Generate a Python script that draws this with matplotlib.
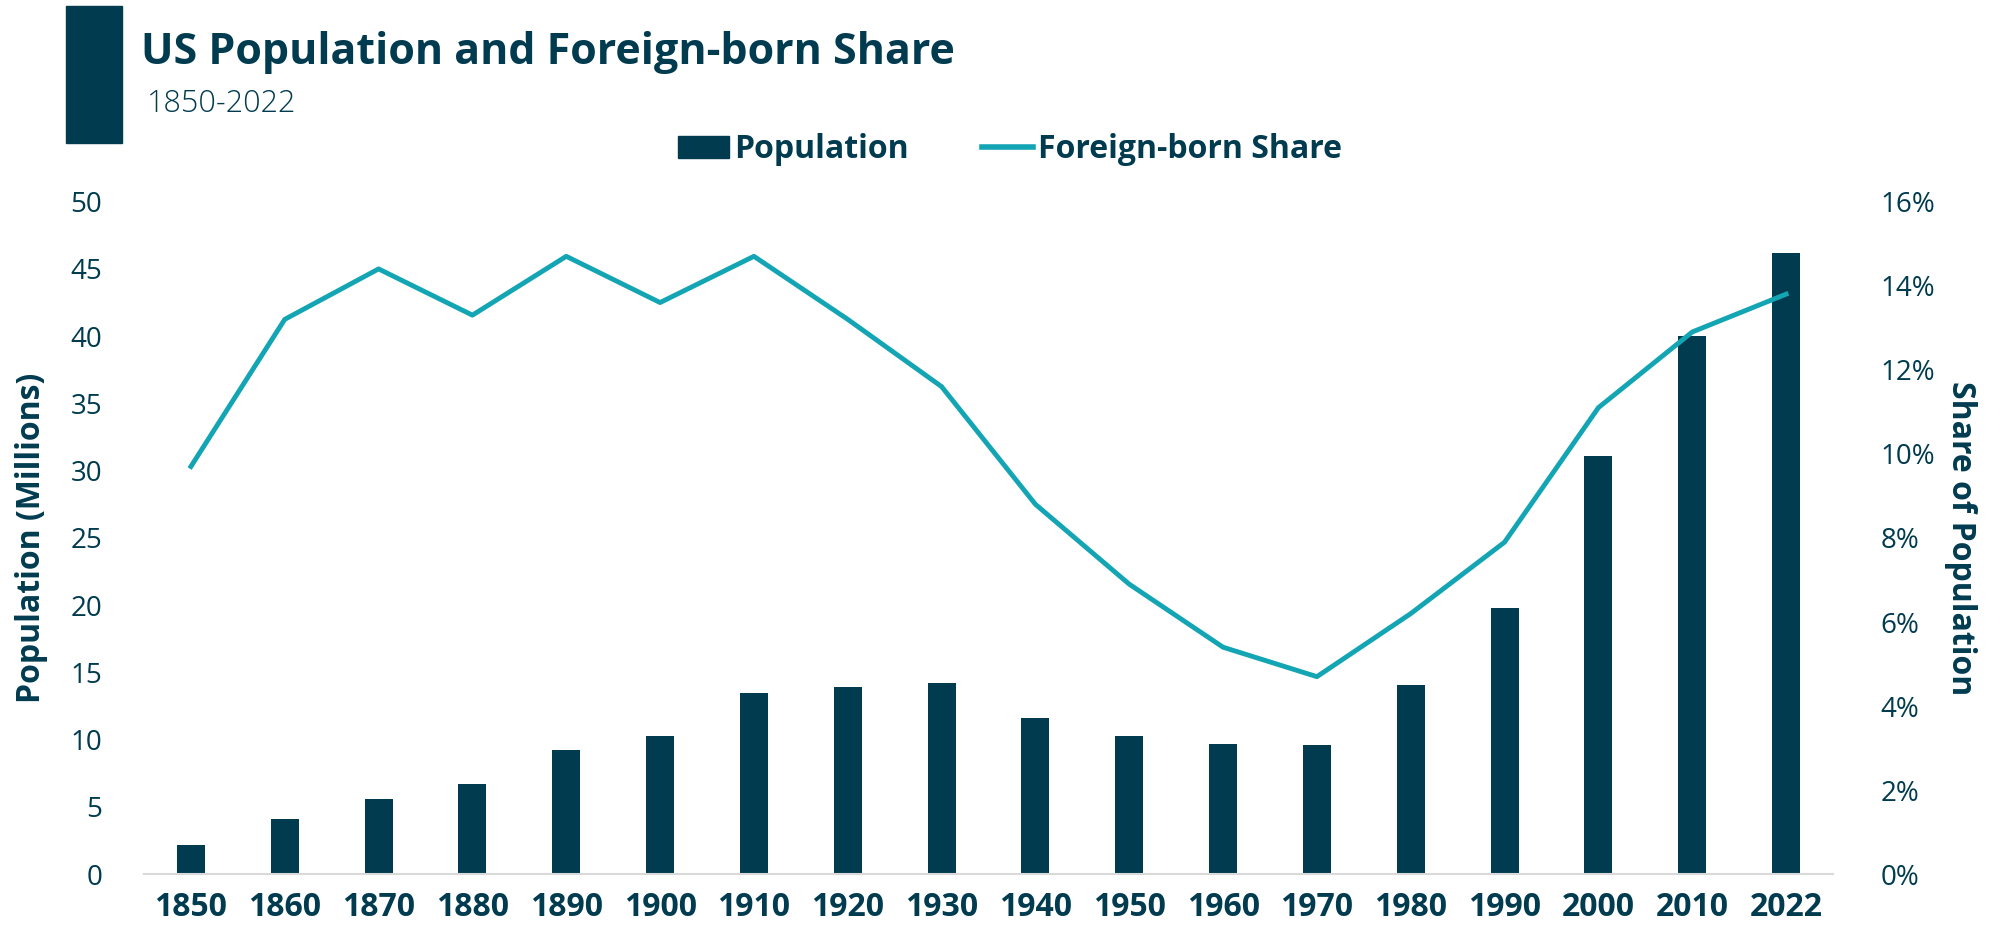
import matplotlib.pyplot as plt
from matplotlib.patches import Rectangle, Patch
from matplotlib.lines import Line2D
from matplotlib.ticker import FuncFormatter

plt.rcParams['font.family'] = ['Open Sans', 'DejaVu Sans']

dark = '#003B4F'
teal = '#14A5B5'

years = ['1850', '1860', '1870', '1880', '1890', '1900', '1910', '1920', '1930',
         '1940', '1950', '1960', '1970', '1980', '1990', '2000', '2010', '2022']
population = [2.2, 4.1, 5.6, 6.7, 9.2, 10.3, 13.5, 13.9, 14.2,
              11.6, 10.3, 9.7, 9.6, 14.1, 19.8, 31.1, 40.0, 46.2]
share = [9.7, 13.2, 14.4, 13.3, 14.7, 13.6, 14.7, 13.2, 11.6,
         8.8, 6.9, 5.4, 4.7, 6.2, 7.9, 11.1, 12.9, 13.8]

fig = plt.figure(figsize=(20, 9.38), dpi=100)
ax = fig.add_axes([0.072, 0.068, 0.8445, 0.717])
ax2 = ax.twinx()

x = range(len(years))
ax.bar(x, population, width=0.3, color=dark, zorder=2)
ax2.plot(x, [s / 100 for s in share], color=teal, lw=3.5, zorder=3)

ax.set_xlim(-0.5, len(years) - 0.5)
ax.set_ylim(0, 50)
ax.set_yticks(range(0, 51, 5))
ax2.set_ylim(0, 0.16)
ax2.set_yticks([i / 100 for i in range(0, 17, 2)])
ax2.yaxis.set_major_formatter(FuncFormatter(lambda v, p: f'{v * 100:.0f}%'))

ax.set_xticks(list(x))
ax.set_xticklabels(years, fontsize=23, fontweight='bold', color=dark)

for a in (ax, ax2):
    for s in a.spines.values():
        s.set_visible(False)
    a.tick_params(length=0)
ax.spines['bottom'].set_visible(True)
ax.spines['bottom'].set_color('#D9D9D9')
ax.spines['bottom'].set_linewidth(1.5)

ax.tick_params(axis='y', labelsize=20, labelcolor=dark, pad=30)
ax.tick_params(axis='x', pad=12)
ax2.tick_params(axis='y', labelsize=20, labelcolor=dark, pad=34)

ax.set_ylabel('Population (Millions)', fontsize=23, fontweight='bold', color=dark, labelpad=16)
ax2.set_ylabel('Share of Population', fontsize=23, fontweight='bold', color=dark,
               rotation=270, labelpad=30)

fig.patches.append(Rectangle((0.033, 1 - 143 / 938), 0.028, 137 / 938,
                             transform=fig.transFigure, color=dark))
fig.text(0.0705, 1 - 52 / 938, 'US Population and Foreign-born Share', fontsize=31,
         fontweight='bold', color=dark, va='center', ha='left')
fig.text(0.0735, 1 - 104 / 938, '1850-2022', fontsize=22, fontweight='light',
         color=dark, va='center', ha='left')

handles = [Patch(color=dark), Line2D([0], [0], color=teal, lw=4)]
leg = fig.legend(handles, ['Population', 'Foreign-born Share'], loc='center',
                 bbox_to_anchor=(0.505, 1 - 150 / 938), ncol=2, frameon=False,
                 prop={'size': 23, 'weight': 'bold'}, handlelength=1.6,
                 handletextpad=0.15, columnspacing=2.3)
for t in leg.get_texts():
    t.set_color(dark)

fig.savefig('out.png', dpi=100)
